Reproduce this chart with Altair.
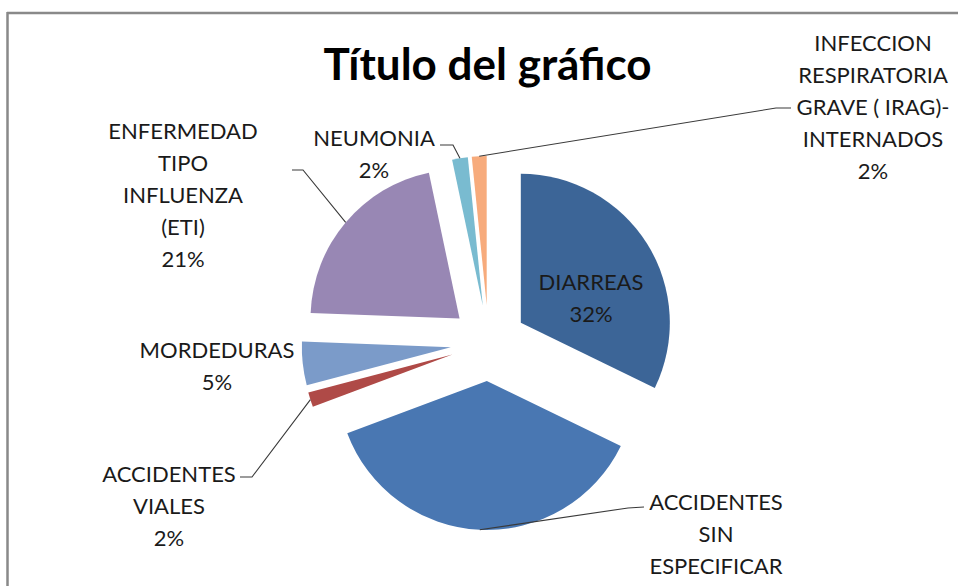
import numpy as np
import pandas as pd
import altair as alt

# ---------------- data ----------------
categories = [
    "DIARREAS",
    "ACCIDENTES SIN ESPECIFICAR",
    "ACCIDENTES VIALES",
    "MORDEDURAS",
    "ENFERMEDAD TIPO INFLUENZA (ETI)",
    "NEUMONIA",
    "INFECCION RESPIRATORIA GRAVE ( IRAG)-INTERNADOS",
]
values = [322, 371, 16, 47, 211, 17, 16]
label_lines = [
    ["DIARREAS"],
    ["ACCIDENTES", "SIN", "ESPECIFICAR"],
    ["ACCIDENTES", "VIALES"],
    ["MORDEDURAS"],
    ["ENFERMEDAD", "TIPO", "INFLUENZA", "(ETI)"],
    ["NEUMONIA"],
    ["INFECCION", "RESPIRATORIA", "GRAVE ( IRAG)-", "INTERNADOS"],
]
title_text = "Título del gráfico"

# ---------------- style / layout ----------------
colors = ["#3C6597", "#4977B2", "#AF4A47", "#7B9BC9", "#9887B4", "#79BBD0", "#F7AB7C"]
CX, CY = 488.6, 343.0      # pie centre (px)
R = 149                     # pie radius (px)
EXPLODE = 38                # explosion distance (px)
label_xy = [(591, 290), (716, 510), (169, 482), (217, 358), (183, 139), (374, 146), (873, 51)]
leader_elbows = [
    None,
    [(628, 508), (644, 507)],
    [(252, 477), (240, 477)],
    None,
    [(303, 170), (292, 170)],
    [(453, 145), (440, 145)],
    [(776, 108), (791, 108)],
]
FONT = "Lato"
TEXT_COLOR = "#1A1A1A"
W, H = 958, 586

# ---------------- geometry from data ----------------
vals = np.array(values, dtype=float)
total = vals.sum()
cum = np.cumsum(vals)
t0 = 2 * np.pi * (cum - vals) / total
t1 = 2 * np.pi * cum / total
mid = (t0 + t1) / 2
pies = pd.DataFrame({
    "cat": categories,
    "value": values,
    "t0": t0,
    "t1": t1,
    "cx": CX + EXPLODE * np.sin(mid),
    "cy": CY - EXPLODE * np.cos(mid),
})

pct = [f"{int(round(v / total * 100))}%" for v in vals]
labels = pd.DataFrame({
    "cat": categories,
    "text": ["\n".join(l + [p]) for l, p in zip(label_lines, pct)],
    "lx": [p[0] for p in label_xy],
    "ly": [p[1] for p in label_xy],
})

rows = []
for i, el in enumerate(leader_elbows):
    if not el:
        continue
    ax = CX + (EXPLODE + R) * np.sin(mid[i])
    ay = CY - (EXPLODE + R) * np.cos(mid[i])
    rows.append({"cat": categories[i], "seq": 0, "x": ax, "y": ay})
    for j, (ex, ey) in enumerate(el):
        rows.append({"cat": categories[i], "seq": j + 1, "x": ex, "y": ey})
leaders = pd.DataFrame(rows)

# ---------------- layers ----------------
frame_top = alt.Chart(pd.DataFrame({"a": [0]})).mark_rule(
    color="#898989", strokeWidth=2.5
).encode(x=alt.value(7), x2=alt.value(W), y=alt.value(13))
frame_left = alt.Chart(pd.DataFrame({"a": [0]})).mark_rule(
    color="#898989", strokeWidth=2.5
).encode(x=alt.value(7.5), y=alt.value(12), y2=alt.value(H))

title = alt.Chart(pd.DataFrame({"t": [title_text]})).mark_text(
    font=FONT, fontSize=44, fontWeight="bold", color="#000000",
    align="center", baseline="alphabetic"
).encode(text="t:N", x=alt.value(487.5), y=alt.value(80))

arcs = alt.Chart(pies).mark_arc(radius=R).encode(
    theta=alt.Theta("t0:Q", scale=None),
    theta2=alt.Theta2("t1:Q"),
    x=alt.X("cx:Q", scale=None, axis=None),
    y=alt.Y("cy:Q", scale=None, axis=None),
    color=alt.Color("cat:N", scale=alt.Scale(domain=categories, range=colors), legend=None),
)

lines = alt.Chart(leaders).mark_line(color="#3A3A3A", strokeWidth=1.1).encode(
    x=alt.X("x:Q", scale=None, axis=None),
    y=alt.Y("y:Q", scale=None, axis=None),
    detail="cat:N",
    order=alt.Order("seq:Q"),
)

texts = alt.Chart(labels).mark_text(
    font=FONT, fontSize=22, color=TEXT_COLOR, align="center",
    baseline="alphabetic", lineBreak="\n", lineHeight=32
).encode(
    x=alt.X("lx:Q", scale=None, axis=None),
    y=alt.Y("ly:Q", scale=None, axis=None),
    text="text:N",
)

chart = alt.layer(frame_top, frame_left, title, arcs, lines, texts).properties(
    width=W, height=H, padding=0, autosize="none", background="#FFFFFF"
).configure_view(stroke=None)

chart.save("out.html", embed_options={"renderer": "svg", "actions": False})
